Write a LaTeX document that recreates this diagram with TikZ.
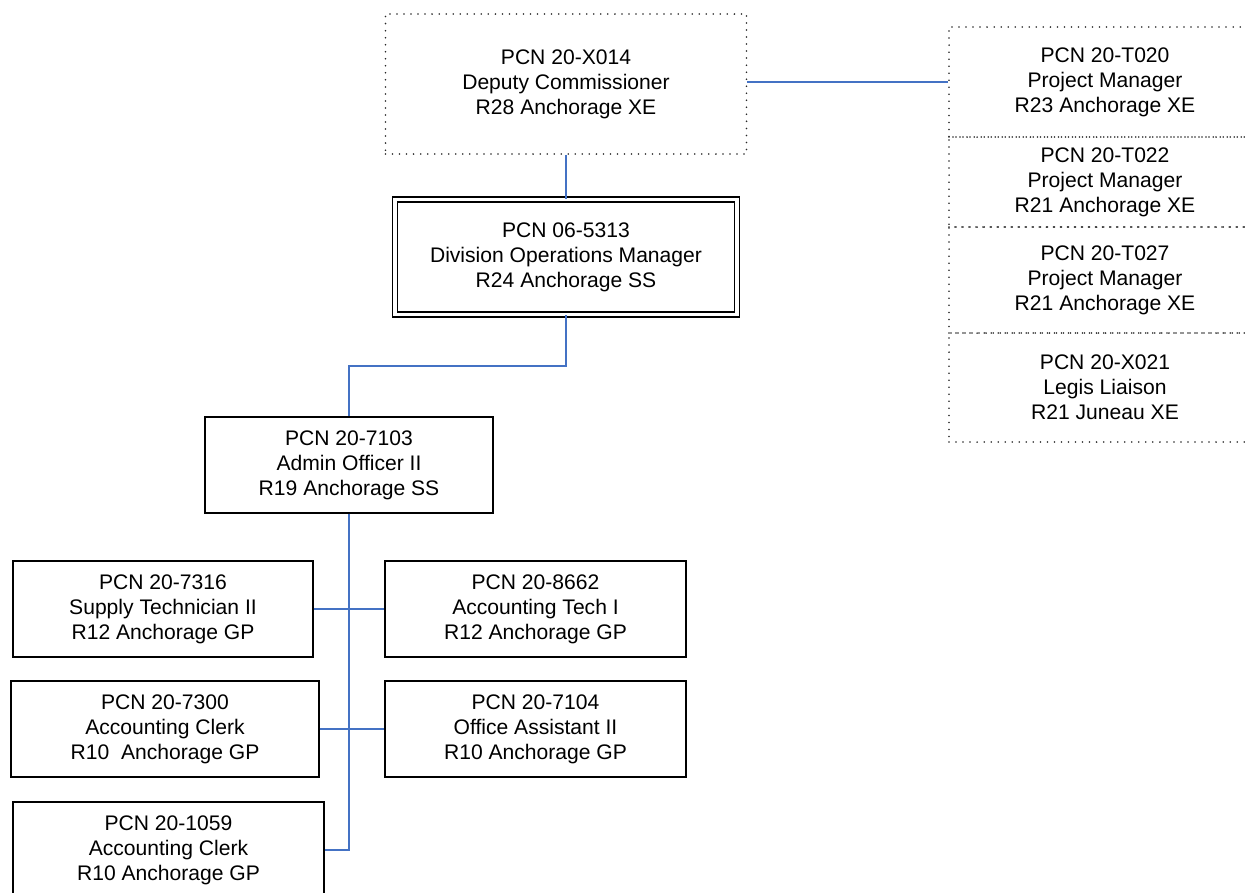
\documentclass[tikz,border=0pt]{standalone}
\usepackage{fontspec}
\setmainfont{Liberation Sans}
\usepackage{tikz}
\usetikzlibrary{calc}
\definecolor{L}{RGB}{68, 114, 196}
\definecolor{D}{RGB}{40, 40, 40}

\tikzset{
  post/.style={draw=black, line width=0.75pt, align=center, inner sep=0pt,
    font=\fontsize{12}{14.2}\selectfont},
  dotbox/.style={draw=D, line width=1pt, dash pattern=on 0pt off 4pt, line cap=round,
    align=center, inner sep=0pt, font=\fontsize{12}{14.2}\selectfont},
  link/.style={draw=L, line width=1pt}
}

\begin{document}
\begin{tikzpicture}
  \useasboundingbox (0,0) rectangle (24.9,-17.86);
  \clip (0,0) rectangle (24.9,-17.86);
  % top of the chart
  \node[dotbox, minimum width=7.22cm, minimum height=2.80cm] (dep) at (11.32,-1.68)
    {PCN 20-X014\\Deputy Commissioner\\R28 Anchorage XE};
  \node[post, double, double distance=2pt, line width=0.8pt,
    minimum width=6.84cm, minimum height=2.30cm] (div) at (11.32,-5.14)
    {PCN 06-5313\\Division Operations Manager\\R24 Anchorage SS};
  % right hand column
  \node[dotbox, minimum width=6.24cm, minimum height=2.20cm] (pm1) at (22.10,-1.64)
    {PCN 20-T020\\Project Manager\\R23 Anchorage XE};
  \node[dotbox, minimum width=6.24cm, minimum height=1.80cm] (pm2) at (22.10,-3.64)
    {PCN 20-T022\\Project Manager\\R21 Anchorage XE};
  \node[dotbox, minimum width=6.24cm, minimum height=2.12cm] (pm3) at (22.10,-5.60)
    {PCN 20-T027\\Project Manager\\R21 Anchorage XE};
  \node[dotbox, minimum width=6.24cm, minimum height=2.18cm] (lia) at (22.10,-7.75)
    {PCN 20-X021\\Legis Liaison\\R21 Juneau XE};
  % admin and staff
  \node[post, minimum width=5.76cm, minimum height=1.92cm] (adm) at (6.98,-9.30)
    {PCN 20-7103\\Admin Officer II\\R19 Anchorage SS};
  \node[post, minimum width=6.00cm, minimum height=1.92cm] (sup) at (3.26,-12.18)
    {PCN 20-7316\\Supply Technician II\\R12 Anchorage GP};
  \node[post, minimum width=6.02cm, minimum height=1.92cm] (tech) at (10.71,-12.18)
    {PCN 20-8662\\Accounting Tech I\\R12 Anchorage GP};
  \node[post, minimum width=6.16cm, minimum height=1.92cm] (clk1) at (3.30,-14.58)
    {PCN 20-7300\\Accounting Clerk\\R10~ Anchorage GP};
  \node[post, minimum width=6.02cm, minimum height=1.92cm] (off) at (10.71,-14.58)
    {PCN 20-7104\\Office Assistant II\\R10 Anchorage GP};
  \node[post, minimum width=6.22cm, minimum height=1.92cm] (clk2) at (3.37,-17.00)
    {PCN 20-1059\\Accounting Clerk\\R10 Anchorage GP};
  % lines
  \draw[link] (dep.east |- pm1.west) -- (pm1.west);
  \draw[link] (dep.south) -- (div.north);
  \draw[link] (div.south) |- ($(div.south)!.5!(adm.north)$) -| (adm.north);
  \draw[link] (adm.south) |- (clk2.east);
  \draw[link] (sup.east) -- (tech.west);
  \draw[link] (clk1.east) -- (off.west);
\end{tikzpicture}
\end{document}
